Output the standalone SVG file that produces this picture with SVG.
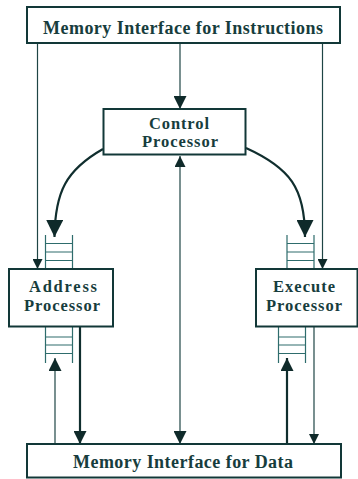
<svg xmlns="http://www.w3.org/2000/svg" width="358" height="479" viewBox="0 0 358 479">
  <style>
    .box { fill: #ffffff; stroke: #123838; stroke-width: 2; }
    .lbl { font-family: "Liberation Serif", "Times New Roman", serif; font-weight: bold; font-size: 18px; fill: #173d3d; text-anchor: middle; }
    .two { font-size: 16.5px; }
    .thin { fill: none; stroke: #1f4545; stroke-width: 1.2; }
    .thick { fill: none; stroke: #102e2e; stroke-width: 2.2; }
    .ladder { fill: none; stroke: #2e6c6c; stroke-width: 1.2; }
  </style>
  <defs>
    <marker id="aS" viewBox="0 0 10 10" refX="10" refY="5" markerWidth="10" markerHeight="10" markerUnits="userSpaceOnUse" orient="auto">
      <path d="M0,0 L10,5 L0,10 z" fill="#0f2a2a"/>
    </marker>
    <marker id="aM" viewBox="0 0 10 10" refX="10" refY="5" markerWidth="13" markerHeight="13" markerUnits="userSpaceOnUse" orient="auto">
      <path d="M0,0 L10,5 L0,10 z" fill="#0f2a2a"/>
    </marker>
    <marker id="aL" viewBox="0 0 10 10" refX="10" refY="5" markerWidth="17" markerHeight="17" markerUnits="userSpaceOnUse" orient="auto">
      <path d="M0,0 L10,5 L0,10 z" fill="#0f2a2a"/>
    </marker>
    <marker id="aSs" viewBox="0 0 10 10" refX="0" refY="5" markerWidth="11" markerHeight="11" markerUnits="userSpaceOnUse" orient="auto">
      <path d="M10,0 L0,5 L10,10 z" fill="#0f2a2a"/>
    </marker>
  </defs>

  <g id="connectors">
    <!-- instruction memory to control -->
    <line class="thin" x1="180" y1="44" x2="180" y2="109" marker-end="url(#aM)"/>
    <!-- instruction memory to address / execute -->
    <line class="thin" x1="37.5" y1="44" x2="37.5" y2="269" marker-end="url(#aS)"/>
    <line class="thin" x1="322.5" y1="44" x2="322.5" y2="269" marker-end="url(#aS)"/>
    <!-- control to queues -->
    <path class="thick" d="M103,149 C66,170 55,192 54.5,237" marker-end="url(#aL)"/>
    <path class="thick" d="M246,148 C290,168 305,188 305,237" marker-end="url(#aL)"/>
    <!-- control <-> data memory -->
    <line class="thin" x1="180" y1="156" x2="180" y2="444" marker-start="url(#aSs)" marker-end="url(#aM)"/>
    <!-- address processor <-> data memory -->
    <line class="thin" x1="55" y1="444" x2="55" y2="358" marker-end="url(#aM)"/>
    <line class="thick" x1="80" y1="327" x2="80" y2="444" marker-end="url(#aM)"/>
    <!-- execute processor <-> data memory -->
    <line class="thick" x1="287" y1="444" x2="287" y2="358" marker-end="url(#aM)"/>
    <line class="thin" x1="314" y1="327" x2="314" y2="444" marker-end="url(#aS)"/>
  </g>

  <g id="queues">
    <path class="ladder" d="M45.5,235 V268 M72.5,235 V268 M45.5,243.5 H72.5 M45.5,252 H72.5 M45.5,260.5 H72.5"/>
    <path class="ladder" d="M45.5,327 V363 M72.5,327 V363 M45.5,337 H72.5 M45.5,345 H72.5 M45.5,353.5 H72.5"/>
    <path class="ladder" d="M287,235 V268 M314,235 V268 M287,243.5 H314 M287,252 H314 M287,260.5 H314"/>
    <path class="ladder" d="M278.5,327 V363 M305.5,327 V363 M278.5,337 H305.5 M278.5,345 H305.5 M278.5,353.5 H305.5"/>
  </g>

  <g id="mem-instr">
    <rect class="box" x="27" y="7" width="313" height="36"/>
    <text class="lbl" x="183" y="33.5" textLength="280" lengthAdjust="spacing">Memory Interface for Instructions</text>
  </g>

  <g id="control">
    <rect class="box" x="103.5" y="109" width="142" height="45.5"/>
    <text class="lbl two" x="179" y="129" textLength="60" lengthAdjust="spacing">Control</text>
    <text class="lbl two" x="180" y="147" textLength="76" lengthAdjust="spacing">Processor</text>
  </g>

  <g id="address">
    <rect class="box" x="9" y="269" width="104" height="57.5"/>
    <text class="lbl two" x="63" y="292" textLength="68" lengthAdjust="spacing">Address</text>
    <text class="lbl two" x="62" y="311" textLength="76" lengthAdjust="spacing">Processor</text>
  </g>

  <g id="execute">
    <rect class="box" x="256" y="269" width="101.5" height="57.5"/>
    <text class="lbl two" x="304" y="292" textLength="62" lengthAdjust="spacing">Execute</text>
    <text class="lbl two" x="304" y="311" textLength="76" lengthAdjust="spacing">Processor</text>
  </g>

  <g id="mem-data">
    <rect class="box" x="27" y="444" width="314" height="33.5"/>
    <text class="lbl" x="183" y="468" textLength="220" lengthAdjust="spacing">Memory Interface for Data</text>
  </g>
</svg>
